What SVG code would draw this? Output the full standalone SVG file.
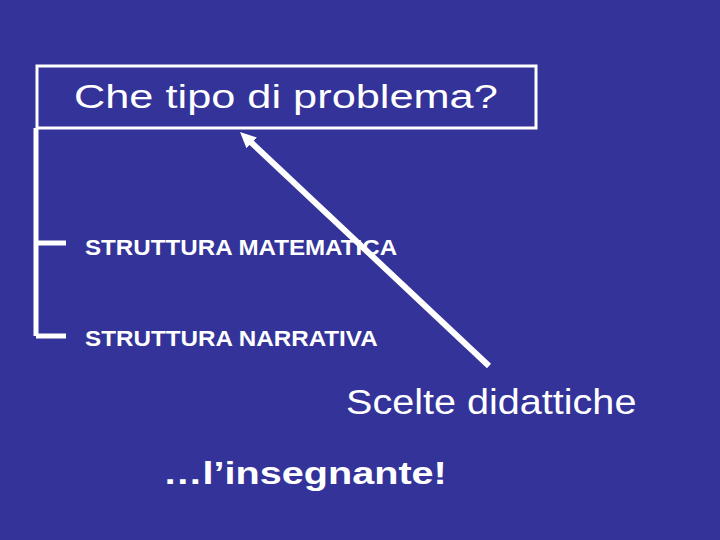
<svg xmlns="http://www.w3.org/2000/svg" width="720" height="540" viewBox="0 0 720 540">
<style>
.t{fill:#fff;font-family:"Liberation Sans",Arial,sans-serif}
.ln{stroke:#fff;fill:none}
</style>
<defs>
<marker id="ah" markerWidth="18" markerHeight="18" refX="6" refY="8" orient="auto" markerUnits="userSpaceOnUse">
<path d="M0,0.5 L16,8 L0,15.5 Z" fill="#fff"/>
</marker>
</defs>
<rect width="720" height="540" fill="#333399"/>
<g id="title">
<rect x="37" y="66" width="499" height="62" class="ln" stroke-width="3"/>
<text class="t" transform="translate(74,108) scale(1.3,1)" x="0" y="0" font-size="33" textLength="326" lengthAdjust="spacingAndGlyphs">Che tipo di problema?</text>
</g>
<g id="connectors">
<path class="ln" stroke-width="5" d="M36,128 V336 M36,243 H66 M36,336 H66"/>
<line class="ln" x1="489" y1="366" x2="247.3" y2="138.8" stroke-width="6" marker-end="url(#ah)"/>
</g>
<g id="s1"><text class="t" transform="translate(85,255) scale(1.08,1)" x="0" y="0" font-size="22" font-weight="bold" textLength="289" lengthAdjust="spacingAndGlyphs">STRUTTURA MATEMATICA</text></g>
<g id="s2"><text class="t" transform="translate(85,346) scale(1.08,1)" x="0" y="0" font-size="22" font-weight="bold" textLength="271" lengthAdjust="spacingAndGlyphs">STRUTTURA NARRATIVA</text></g>
<g id="scelte"><text class="t" transform="translate(346,414) scale(1.1,1)" x="0" y="0" font-size="36" textLength="264" lengthAdjust="spacingAndGlyphs">Scelte didattiche</text></g>
<g id="insegnante"><text class="t" transform="translate(163,484) scale(1.29,1)" x="0" y="0" font-size="31" font-weight="bold" textLength="220" lengthAdjust="spacingAndGlyphs">…l’insegnante!</text></g>
</svg>
